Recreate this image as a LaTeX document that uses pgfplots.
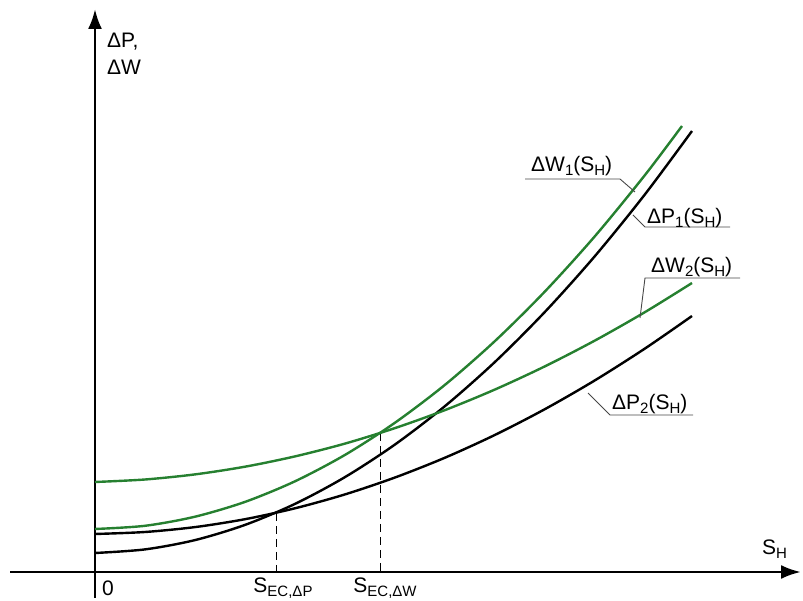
\documentclass[border=0pt]{standalone}
\usepackage{fontspec}
\setmainfont{Liberation Sans}
\usepackage{pgfplots}
\pgfplotsset{compat=1.18}
\usetikzlibrary{arrows.meta}
\definecolor{grn}{RGB}{38,128,48}
\definecolor{ldr}{RGB}{70,70,70}
\newcommand\sub[1]{\raisebox{-0.3ex}{\fontsize{15}{15}\selectfont #1}}
\newcommand\lbl{\fontsize{21}{23}\selectfont}
\begin{document}
\begin{tikzpicture}
\begin{axis}[
  width=803pt, height=601pt, scale only axis,
  xmin=-95, xmax=708, ymin=-29, ymax=572,
  hide axis, clip=false,
]
% axes
\draw[line width=2.8pt, -{Latex[length=20pt,width=14pt]}] (axis cs:-85,0) -- (axis cs:706,0);
\draw[line width=2.8pt, -{Latex[length=20pt,width=14pt]}] (axis cs:0,-26) -- (axis cs:0,563);
% dashed guides
\draw[dash pattern=on 8pt off 5pt, line width=1pt] (axis cs:181,59) -- (axis cs:181,0);
\draw[dash pattern=on 8pt off 5pt, line width=1pt] (axis cs:285,139) -- (axis cs:285,0);
% Delta P2
\addplot[black, line width=2.4pt, smooth] coordinates {
(0,38) (50,40.0) (100,44.9) (150,52.8) (200,63.7) (250,77.6) (300,94.5)
(350,114.3) (400,137.1) (450,162.9) (500,191.7) (550,223.5) (597,256)};
% Delta P1
\addplot[black, line width=2.4pt, smooth] coordinates {
(0,19) (50,22.6) (100,31.9) (150,47.1) (200,68.1) (250,94.9) (300,127.5)
(350,165.9) (400,210.1) (450,260.2) (500,316) (550,377.7) (597,441)};
% Delta W2
\addplot[grn, line width=2.4pt, smooth] coordinates {
(0,90) (50,92.5) (100,97.6) (150,105.3) (200,115.6) (250,128.4) (300,143.9)
(350,161.9) (400,182.5) (450,205.7) (500,231.5) (550,259.9) (597,289)};
% Delta W1
\addplot[grn, line width=2.4pt, smooth] coordinates {
(0,43) (50,46.2) (100,55.3) (150,70.1) (200,90.7) (250,117.1) (300,149.3)
(350,187.2) (400,231) (450,280.6) (500,335.9) (550,397) (587,446)};
% leaders
\draw[ldr, line width=0.9pt] (axis cs:430,393) -- (axis cs:525,393) -- (axis cs:540,380);
\draw[ldr, line width=0.9pt] (axis cs:635,345) -- (axis cs:550,345) -- (axis cs:538,357);
\draw[ldr, line width=0.9pt] (axis cs:645,294) -- (axis cs:550,294) -- (axis cs:545,254);
\draw[ldr, line width=0.9pt] (axis cs:598,157) -- (axis cs:515,157) -- (axis cs:493,179);
% labels
\node[anchor=base west, inner sep=0pt] at (axis cs:12,524) {\lbl ΔP,};
\node[anchor=base west, inner sep=0pt] at (axis cs:12,497) {\lbl ΔW};
\node[anchor=base west, inner sep=0pt] at (axis cs:7,-24) {\lbl 0};
\node[anchor=base, inner sep=0pt] at (axis cs:188,-21) {\lbl S\sub{EC,ΔP}};
\node[anchor=base, inner sep=0pt] at (axis cs:290,-21) {\lbl S\sub{EC,ΔW}};
\node[anchor=base west, inner sep=0pt] at (axis cs:667,17) {\lbl S\sub{H}};
\node[anchor=base west, inner sep=0pt] at (axis cs:436,400) {\lbl ΔW\sub{1}(S\sub{H})};
\node[anchor=base west, inner sep=0pt] at (axis cs:552,348) {\lbl ΔP\sub{1}(S\sub{H})};
\node[anchor=base west, inner sep=0pt] at (axis cs:556,299) {\lbl ΔW\sub{2}(S\sub{H})};
\node[anchor=base west, inner sep=0pt] at (axis cs:517,162) {\lbl ΔP\sub{2}(S\sub{H})};
\end{axis}
\pgfresetboundingbox
\useasboundingbox (current axis.south west) rectangle (current axis.north east);
\end{tikzpicture}
\end{document}
